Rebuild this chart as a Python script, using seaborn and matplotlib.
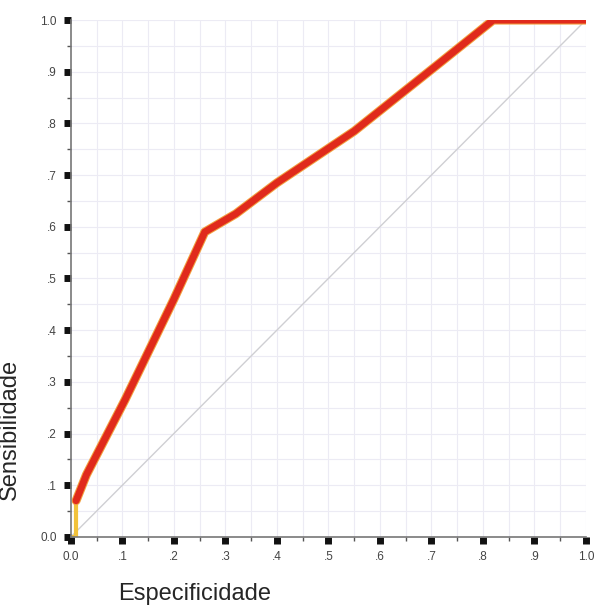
import matplotlib
matplotlib.use("Agg")
import matplotlib.pyplot as plt
import seaborn as sns
import numpy as np
import pandas as pd

# ROC curve points
especificidade = [0.0, 0.01, 0.01, 0.03, 0.105, 0.2, 0.26, 0.32, 0.40, 0.55, 0.72, 0.82, 1.0]
sensibilidade = [0.0, 0.0, 0.07, 0.12, 0.265, 0.46, 0.59, 0.625, 0.685, 0.785, 0.92, 1.0, 1.0]
ref_line = [0.0, 1.0]
tick_vals = [0.0, 0.1, 0.2, 0.3, 0.4, 0.5, 0.6, 0.7, 0.8, 0.9, 1.0]
tick_labels = ["0.0", ".1", ".2", ".3", ".4", ".5", ".6", ".7", ".8", ".9", "1.0"]

sns.set_style("white")
plt.rcParams['font.family'] = ['Liberation Sans', 'DejaVu Sans']

df = pd.DataFrame({"esp": especificidade, "sens": sensibilidade})

fig = plt.figure(figsize=(5.96, 6.08), dpi=100)
ax = fig.add_axes([0.119, 0.117, 0.864, 0.85])

# light grid every .05
for v in np.arange(0.05, 1.001, 0.05):
    ax.axvline(v, color="#ecebf4", lw=0.8, zorder=0)
    ax.axhline(v, color="#ecebf4", lw=0.8, zorder=0)

sns.lineplot(x=ref_line, y=ref_line, ax=ax, color="#cfcfd3", lw=1.0, zorder=1)
# thin yellow start, then red curve with an orange edge
sns.lineplot(data=df.iloc[:3], x="esp", y="sens", ax=ax, sort=False, estimator=None,
             color="#f2c23a", lw=3, zorder=2)
sns.lineplot(data=df.iloc[2:], x="esp", y="sens", ax=ax, sort=False, estimator=None,
             color="#f2a040", lw=6.5, zorder=2)
sns.lineplot(data=df.iloc[2:], x="esp", y="sens", ax=ax, sort=False, estimator=None,
             color="#e02a1c", lw=5, zorder=3)

ax.set_xlim(0, 1.0)
ax.set_ylim(0, 1.0)
ax.set_xticks(tick_vals)
ax.set_xticklabels(tick_labels)
ax.set_yticks(tick_vals)
ax.set_yticklabels(tick_labels)
ax.set_xticks(np.arange(0.05, 1.0, 0.1), minor=True)
ax.set_yticks(np.arange(0.05, 1.0, 0.1), minor=True)
ax.tick_params(which="both", bottom=True, left=True)
ax.tick_params(which="major", length=5, width=5, color="#111111", direction="out",
               labelsize=8.5, labelcolor="#444444", pad=5)
ax.tick_params(which="minor", length=3, width=1, color="#555555", direction="out")

for s in ["top", "right"]:
    ax.spines[s].set_visible(False)
for s in ["left", "bottom"]:
    ax.spines[s].set_color("#777777")
    ax.spines[s].set_linewidth(1.2)

ax.set_xlabel("Especificidade", fontsize=17)
ax.set_ylabel("Sensibilidade", fontsize=17)
ax.yaxis.set_label_coords(-0.098, 0.207)
ax.xaxis.set_label_coords(0.24, -0.09)

fig.savefig("out.png", dpi=100)
